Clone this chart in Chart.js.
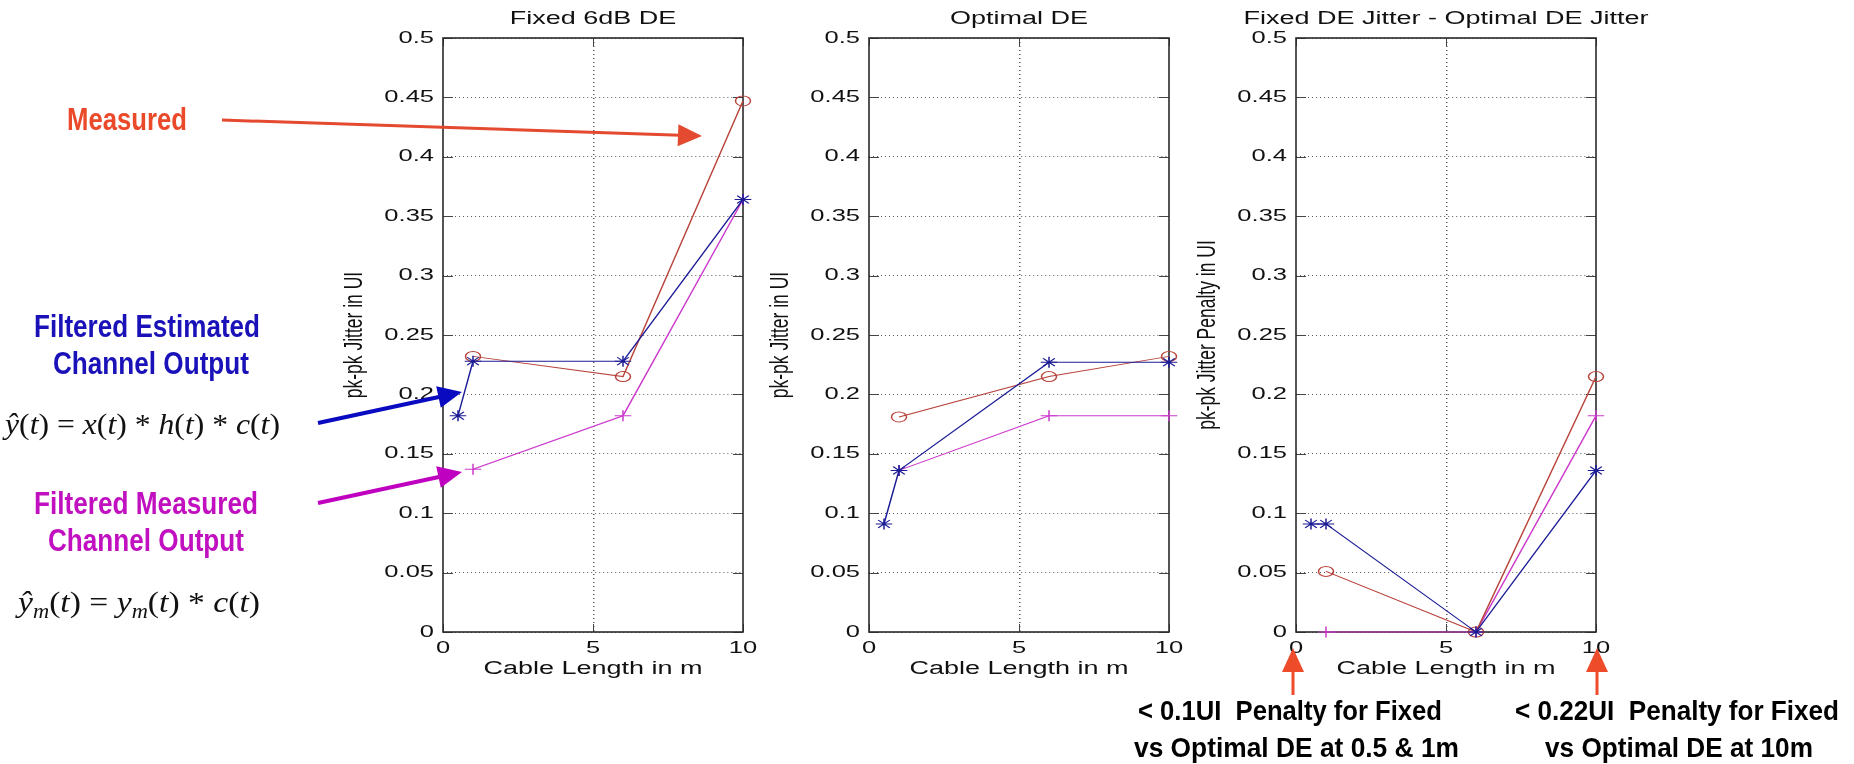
<!DOCTYPE html>
<html>
<head>
<meta charset="utf-8">
<title>pk-pk jitter vs cable length</title>
<script src="https://cdn.jsdelivr.net/npm/chart.js@4.4.1/dist/chart.umd.min.js"></script>
<style>
  html, body { margin: 0; padding: 0; background: #fff; }
  #page { position: relative; width: 1854px; height: 764px; overflow: hidden; background: #fff; }
  /* width is in chart units, the canvas is stretched 1.5x sideways like the original figure */
  .panel { position: absolute; top: 0; width: 340px; height: 700px; }
  #notes { position: absolute; left: 0; top: 0; pointer-events: none; }
  #notes text { white-space: pre; }
</style>
</head>
<body>
<div id="page">
  <div class="panel" style="left:338px"><canvas id="fixedChart"></canvas></div>
  <div class="panel" style="left:764px"><canvas id="optimalChart"></canvas></div>
  <div class="panel" style="left:1191px"><canvas id="penaltyChart"></canvas></div>

  <svg id="notes" width="1854" height="764" xmlns="http://www.w3.org/2000/svg">
    <!-- call-outs on the left -->
    <g font-family="Liberation Sans, Arial, sans-serif" font-weight="bold" font-size="31">
      <text x="67" y="130" fill="#ea4a2a" textLength="120" lengthAdjust="spacingAndGlyphs">Measured</text>
      <text x="34" y="337" fill="#1a12b8" textLength="226" lengthAdjust="spacingAndGlyphs">Filtered Estimated</text>
      <text x="53" y="374" fill="#1a12b8" textLength="196" lengthAdjust="spacingAndGlyphs">Channel Output</text>
      <text x="34" y="514" fill="#c010c0" textLength="224" lengthAdjust="spacingAndGlyphs">Filtered Measured</text>
      <text x="48" y="551" fill="#c010c0" textLength="196" lengthAdjust="spacingAndGlyphs">Channel Output</text>
    </g>

    <g font-family="Liberation Serif, Times New Roman, serif" font-size="30" fill="#111">
      <text x="5" y="434" textLength="275" lengthAdjust="spacingAndGlyphs"><tspan font-style="italic">ŷ</tspan>(<tspan font-style="italic">t</tspan>) = <tspan font-style="italic">x</tspan>(<tspan font-style="italic">t</tspan>) * <tspan font-style="italic">h</tspan>(<tspan font-style="italic">t</tspan>) * <tspan font-style="italic">c</tspan>(<tspan font-style="italic">t</tspan>)</text>
      <text x="18" y="612" textLength="242" lengthAdjust="spacingAndGlyphs"><tspan font-style="italic">ŷ</tspan><tspan font-style="italic" font-size="20" dy="6">m</tspan><tspan dy="-6">(</tspan><tspan font-style="italic">t</tspan>) = <tspan font-style="italic">y</tspan><tspan font-style="italic" font-size="20" dy="6">m</tspan><tspan dy="-6">(</tspan><tspan font-style="italic">t</tspan>) * <tspan font-style="italic">c</tspan>(<tspan font-style="italic">t</tspan>)</text>
    </g>

    <!-- arrows -->
    <g stroke="#e34a2f" fill="#e34a2f">
      <line x1="222" y1="120" x2="680" y2="135.3" stroke-width="3"/>
      <polygon points="702,136 678.4,124.2 677.6,146.2" stroke="none"/>
    </g>
    <g stroke="#0a0ac0" fill="#0a0ac0">
      <line x1="318" y1="423" x2="440" y2="396.7" stroke-width="4"/>
      <polygon points="462,392 440.8,407.8 436.2,386.3" stroke="none"/>
    </g>
    <g stroke="#c000c0" fill="#c000c0">
      <line x1="318" y1="503" x2="440" y2="476.7" stroke-width="4"/>
      <polygon points="462,472 440.8,487.8 436.2,466.3" stroke="none"/>
    </g>
    <g stroke="#ee4b2b" fill="#ee4b2b">
      <line x1="1293" y1="695" x2="1293" y2="668" stroke-width="3"/>
      <polygon points="1293,648 1282,672 1304,672" stroke="none"/>
      <line x1="1597" y1="695" x2="1597" y2="668" stroke-width="3"/>
      <polygon points="1597,648 1586,672 1608,672" stroke="none"/>
    </g>

    <!-- penalty notes under the right plot -->
    <g font-family="Liberation Sans, Arial, sans-serif" font-weight="bold" font-size="28" fill="#000">
      <text x="1138" y="720" textLength="304" lengthAdjust="spacingAndGlyphs">&lt; 0.1UI  Penalty for Fixed</text>
      <text x="1134" y="757" textLength="325" lengthAdjust="spacingAndGlyphs">vs Optimal DE at 0.5 &amp; 1m</text>
      <text x="1515" y="720" textLength="324" lengthAdjust="spacingAndGlyphs">&lt; 0.22UI  Penalty for Fixed</text>
      <text x="1545" y="757" textLength="268" lengthAdjust="spacingAndGlyphs">vs Optimal DE at 10m</text>
    </g>
  </svg>
</div>

<script>
// ==== data ====
var titles = ['Fixed 6dB DE', 'Optimal DE', 'Fixed DE Jitter - Optimal DE Jitter'];
var yTitles = ['pk-pk Jitter in UI', 'pk-pk Jitter in UI', 'pk-pk Jitter Penalty in UI'];
var xTitle = 'Cable Length in m';
var xTicks = [0, 5, 10];
var yTicks = [0, 0.05, 0.1, 0.15, 0.2, 0.25, 0.3, 0.35, 0.4, 0.45, 0.5];
var yTickLabels = ['0', '0.05', '0.1', '0.15', '0.2', '0.25', '0.3', '0.35', '0.4', '0.45', '0.5'];

// cable lengths in m
var estLength = [0.5, 1, 6, 10];   // filtered estimated channel output (*)
var measLength = [1, 6, 10];       // measured (o) and filtered measured (+)

// Fixed 6dB DE
var fixedEst = [0.182, 0.228, 0.228, 0.364];
var fixedMeas = [0.232, 0.215, 0.447];
var fixedFilt = [0.137, 0.182, 0.364];

// Optimal DE
var optEst = [0.091, 0.136, 0.227, 0.227];
var optMeas = [0.181, 0.215, 0.232];
var optFilt = [0.136, 0.182, 0.182];

// Fixed DE jitter - optimal DE jitter
var penEst = [0.091, 0.091, 0, 0.136];
var penMeas = [0.051, 0, 0.215];
var penFilt = [0, 0, 0.182];
// =======================================

var SX = 1.5;   // the original figure is stretched sideways
var blue = '#1c1c96';
var red = '#b8433b';
var magenta = '#cc3acc';
var gridColor = '#5a5a5a';
var font = "'Liberation Sans', Arial, sans-serif";

function series(xs, ys, color, style, r) {
  return {
    data: xs.map(function (x, i) { return {x: x, y: ys[i]}; }),
    borderColor: color,
    borderWidth: 1,
    pointStyle: style,
    pointRadius: r,
    pointBorderWidth: 1,
    pointBorderColor: color,
    pointBackgroundColor: 'rgba(0,0,0,0)',
    fill: false,
    tension: 0,
    clip: false
  };
}

// stretch the drawing 1.5x in x, then a box with inward ticks round the axes
var matlabAxes = {
  id: 'matlabAxes',
  beforeDraw: function (chart) {
    var c = chart.canvas;
    var w = Math.round(chart.width * SX);
    if (c.width !== w) {
      c.width = w;
      c.style.width = w + 'px';
    }
    chart.ctx.setTransform(SX, 0, 0, 1, 0, 0);
  },
  beforeDatasetsDraw: function (chart) {
    var a = chart.chartArea;
    var ctx = chart.ctx;
    var xs = chart.scales.x;
    var ys = chart.scales.y;
    var L = Math.round(a.left * SX);
    var R = Math.round(a.right * SX);
    var T = Math.round(a.top);
    var B = Math.round(a.bottom);
    ctx.save();
    ctx.setTransform(1, 0, 0, 1, 0, 0);
    ctx.strokeStyle = '#444';
    ctx.lineWidth = 1;
    ctx.beginPath();
    ys.ticks.forEach(function (t) {
      var py = Math.round(ys.getPixelForValue(t.value)) + 0.5;
      ctx.moveTo(L, py); ctx.lineTo(L + 10, py);
      ctx.moveTo(R - 10, py); ctx.lineTo(R, py);
    });
    xs.ticks.forEach(function (t) {
      var px = Math.round(xs.getPixelForValue(t.value) * SX) + 0.5;
      ctx.moveTo(px, B); ctx.lineTo(px, B - 8);
      ctx.moveTo(px, T); ctx.lineTo(px, T + 8);
    });
    ctx.stroke();
    ctx.strokeStyle = '#2a2a2a';
    ctx.lineWidth = 1.6;
    ctx.strokeRect(L, T, R - L, B - T);
    ctx.restore();
  }
};

function makeChart(id, n, datasets) {
  return new Chart(document.getElementById(id), {
    type: 'line',
    data: {datasets: datasets},
    options: {
      responsive: true,
      maintainAspectRatio: false,
      animation: false,
      events: [],
      layout: {padding: 0},
      plugins: {
        legend: {display: false},
        tooltip: {enabled: false},
        title: {
          display: true,
          text: titles[n],
          color: '#111',
          font: {family: font, size: 18, weight: 'normal'},
          padding: {top: 8, bottom: 8.4}
        }
      },
      scales: {
        x: {
          type: 'linear',
          min: 0,
          max: 10,
          afterBuildTicks: function (s) { s.ticks = xTicks.map(function (v) { return {value: v}; }); },
          afterFit: function (s) { s.height = 68; },
          ticks: {color: '#111', font: {family: font, size: 17}, padding: 6, maxRotation: 0, autoSkip: false},
          grid: {
            drawTicks: false,
            color: function (c) { return c.tick && c.tick.value === 5 ? gridColor : 'rgba(0,0,0,0)'; }
          },
          border: {display: false, dash: [1, 3]},
          title: {
            display: true,
            text: xTitle,
            color: '#111',
            font: {family: font, size: 18},
            padding: {top: 0, bottom: 20}
          }
        },
        y: {
          min: 0,
          max: 0.5,
          afterBuildTicks: function (s) { s.ticks = yTicks.map(function (v) { return {value: v}; }); },
          afterFit: function (s) { s.width = 70; },
          ticks: {
            color: '#111',
            font: {family: font, size: 17},
            padding: 6,
            autoSkip: false,
            callback: function (v, i) { return yTickLabels[i]; }
          },
          grid: {drawTicks: false, color: gridColor},
          border: {display: false, dash: [0.67, 2]},
          title: {
            display: true,
            text: yTitles[n],
            color: '#111',
            font: {family: font, size: 17.5},
            padding: {top: 1, bottom: 0}
          }
        },
        // empty axis on the right so the title sits centred over the plot
        yr: {
          position: 'right',
          min: 0,
          max: 1,
          afterFit: function (s) { s.width = 70; },
          ticks: {display: false},
          grid: {display: false},
          border: {display: false}
        }
      }
    },
    plugins: [matlabAxes]
  });
}

var fixedChart = makeChart('fixedChart', 0, [
  series(estLength, fixedEst, blue, 'star', 5.5),
  series(measLength, fixedMeas, red, 'circle', 5),
  series(measLength, fixedFilt, magenta, 'cross', 5.5)
]);

var optimalChart = makeChart('optimalChart', 1, [
  series(estLength, optEst, blue, 'star', 5.5),
  series(measLength, optMeas, red, 'circle', 5),
  series(measLength, optFilt, magenta, 'cross', 5.5)
]);

var penaltyChart = makeChart('penaltyChart', 2, [
  series(estLength, penEst, blue, 'star', 5.5),
  series(measLength, penMeas, red, 'circle', 5),
  series(measLength, penFilt, magenta, 'cross', 5.5)
]);
</script>
</body>
</html>
